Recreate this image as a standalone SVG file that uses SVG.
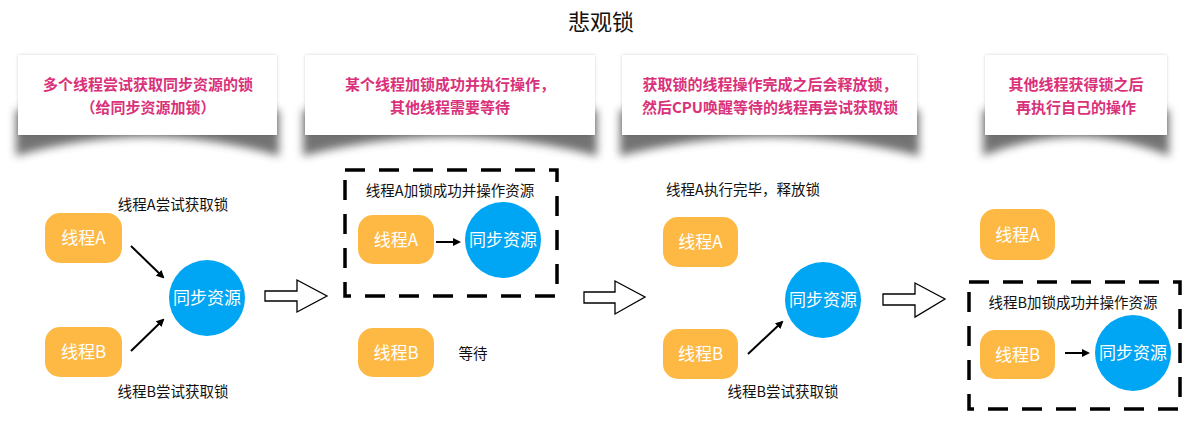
<svg xmlns="http://www.w3.org/2000/svg" width="1203" height="435" viewBox="0 0 1203 435">
<style>
text{font-family:"Noto Sans CJK SC","Liberation Sans",sans-serif}
.title{font-size:22px;fill:#111;text-anchor:middle}
.card{fill:#fff}
.ctext{font-size:15px;font-weight:bold;fill:#d9317a;text-anchor:middle}
.thread{fill:#fdb944}
.res{fill:#00a5f3}
.ntext{font-size:17px;fill:#fff;text-anchor:middle}
.lbl{font-size:14.5px;fill:#111;text-anchor:middle}
.edge{stroke:#000;stroke-width:2;fill:none;marker-end:url(#ah)}
.big{fill:#fff;stroke:#000;stroke-width:1.3}
.dash{fill:none;stroke:#000;stroke-width:3.5;stroke-dasharray:20 14}
.shadow{fill:#444;opacity:0.75;filter:url(#blur)}
</style>
<defs>
<marker id="ah" markerWidth="8" markerHeight="8" refX="6" refY="4" orient="auto" markerUnits="userSpaceOnUse"><path d="M0,0 L8,4 L0,8 Z" fill="#000"/></marker>
<filter id="blur" x="-10%" y="-50%" width="120%" height="200%"><feGaussianBlur stdDeviation="4"/></filter>
<filter id="cs" x="-5%" y="-10%" width="110%" height="130%"><feDropShadow dx="0" dy="0" stdDeviation="1.5" flood-color="#000" flood-opacity="0.18"/></filter>
</defs>
<text class="title" x="601" y="30">悲观锁</text>

<g id="card1">
<path class="shadow" d="M16,110 L16,156 Q147,118 279,156 L279,110 Z"/>
<rect class="card" x="18" y="55" width="259" height="80" filter="url(#cs)"/>
<text class="ctext" x="148" y="90">多个线程尝试获取同步资源的锁</text>
<text class="ctext" x="148" y="113">（给同步资源加锁）</text>
</g>
<g id="card2">
<path class="shadow" d="M303,110 L303,156 Q450,118 597,156 L597,110 Z"/>
<rect class="card" x="305" y="55" width="290" height="80" filter="url(#cs)"/>
<text class="ctext" x="450" y="90">某个线程加锁成功并执行操作，</text>
<text class="ctext" x="450" y="113">其他线程需要等待</text>
</g>
<g id="card3">
<path class="shadow" d="M620,110 L620,156 Q770,118 919,156 L919,110 Z"/>
<rect class="card" x="622" y="55" width="295" height="80" filter="url(#cs)"/>
<text class="ctext" x="770" y="90">获取锁的线程操作完成之后会释放锁，</text>
<text class="ctext" x="770" y="113">然后CPU唤醒等待的线程再尝试获取锁</text>
</g>
<g id="card4">
<path class="shadow" d="M983,110 L983,156 Q1076,118 1169,156 L1169,110 Z"/>
<rect class="card" x="985" y="55" width="182" height="80" filter="url(#cs)"/>
<text class="ctext" x="1076" y="90">其他线程获得锁之后</text>
<text class="ctext" x="1076" y="113">再执行自己的操作</text>
</g>

<!-- panel 1 -->
<text class="lbl" x="173" y="210">线程A尝试获取锁</text>
<text class="lbl" x="173" y="397">线程B尝试获取锁</text>
<g id="p1_threadA"><rect class="thread" x="45" y="213" width="77" height="50" rx="15"/><text class="ntext" x="83.5" y="244">线程A</text></g>
<g id="p1_threadB"><rect class="thread" x="45" y="327" width="77" height="50" rx="15"/><text class="ntext" x="83.5" y="358">线程B</text></g>
<g id="p1_res"><circle class="res" cx="207" cy="298" r="38"/><text class="ntext" x="207" y="304">同步资源</text></g>

<!-- panel 2 -->
<rect class="dash" x="345" y="170" width="212" height="126"/>
<text class="lbl" x="450" y="196">线程A加锁成功并操作资源</text>
<g id="p2_threadA"><rect class="thread" x="358" y="215" width="76" height="49" rx="15"/><text class="ntext" x="396" y="246">线程A</text></g>
<g id="p2_res"><circle class="res" cx="503" cy="240" r="38"/><text class="ntext" x="503" y="246">同步资源</text></g>
<g id="p2_threadB"><rect class="thread" x="358" y="328" width="76" height="49" rx="15"/><text class="ntext" x="396" y="359">线程B</text></g>
<text class="lbl" x="473" y="359">等待</text>

<!-- panel 3 -->
<text class="lbl" x="743" y="195">线程A执行完毕，释放锁</text>
<g id="p3_threadA"><rect class="thread" x="663" y="217" width="75" height="50" rx="15"/><text class="ntext" x="700.5" y="248">线程A</text></g>
<g id="p3_threadB"><rect class="thread" x="663" y="329" width="75" height="50" rx="15"/><text class="ntext" x="700.5" y="360">线程B</text></g>
<g id="p3_res"><circle class="res" cx="823" cy="300" r="38"/><text class="ntext" x="823" y="306">同步资源</text></g>
<text class="lbl" x="783" y="397">线程B尝试获取锁</text>

<!-- panel 4 -->
<g id="p4_threadA"><rect class="thread" x="980" y="209" width="75" height="51" rx="15"/><text class="ntext" x="1017.5" y="241">线程A</text></g>
<rect class="dash" x="969" y="282" width="211" height="127"/>
<text class="lbl" x="1073" y="308">线程B加锁成功并操作资源</text>
<g id="p4_threadB"><rect class="thread" x="980" y="330" width="75" height="49" rx="15"/><text class="ntext" x="1017.5" y="361">线程B</text></g>
<g id="p4_res"><circle class="res" cx="1133" cy="353" r="38"/><text class="ntext" x="1133" y="359">同步资源</text></g>

<g id="connectors">
<line class="edge" x1="131" y1="246" x2="163" y2="277"/>
<line class="edge" x1="131" y1="351" x2="163" y2="320"/>
<line class="edge" x1="436" y1="242" x2="459" y2="242"/>
<line class="edge" x1="748" y1="354" x2="782" y2="322"/>
<line class="edge" x1="1065" y1="353" x2="1088" y2="353"/>
<path class="big" d="M265,291 L297,291 L297,280 L327,296 L297,312 L297,301 L265,301 Z"/>
<path class="big" d="M584,292 L615,292 L615,281 L645,297 L615,314 L615,303 L584,303 Z"/>
<path class="big" d="M883,294 L915,294 L915,283 L945,299 L915,317 L915,305 L883,305 Z"/>
</g>
</svg>
